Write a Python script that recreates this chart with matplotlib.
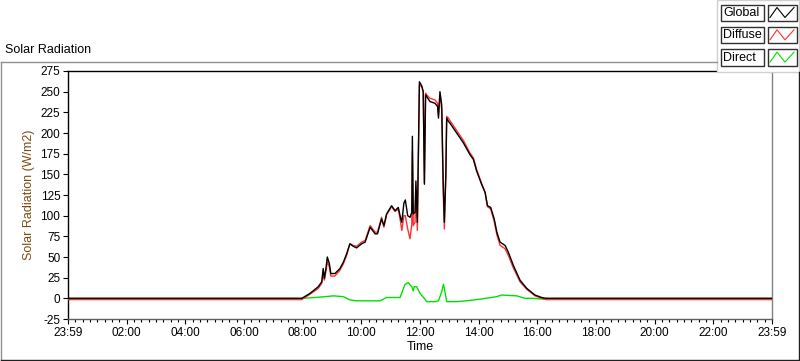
import matplotlib
matplotlib.use("Agg")
import matplotlib.pyplot as plt
from matplotlib.patches import Rectangle
import numpy as np

plt.rcParams['font.family'] = ['Liberation Sans', 'DejaVu Sans']
plt.rcParams['axes.unicode_minus'] = False

# time in hours after 23:59 of the previous day
t_gd = [0, 7.97, 8.25, 8.53, 8.65, 8.70, 8.74, 8.80, 8.84, 8.91, 8.96, 9.10, 9.27, 9.39,
        9.50, 9.61, 9.72, 9.84, 10.01, 10.13, 10.30, 10.47, 10.55, 10.69, 10.77, 10.86,
        11.03, 11.15, 11.26, 11.32, 11.38, 11.45, 11.50, 11.58, 11.66, 11.72, 11.74, 11.77,
        11.83, 11.86, 11.91, 11.98, 12.06, 12.11, 12.15, 12.19, 12.23, 12.34, 12.51, 12.60,
        12.63, 12.68, 12.74, 12.79, 12.83, 12.88, 12.91, 12.97, 13.02, 13.25, 13.48, 13.70,
        13.82, 13.93, 14.10, 14.22, 14.30, 14.41, 14.53, 14.62, 14.73, 14.90, 15.01, 15.18,
        15.41, 15.64, 15.92, 16.15, 16.30, 24]
glob = [0, 0, 6, 14, 20, 36, 24, 38, 50, 42, 30, 30, 36, 44,
        54, 66, 63, 61, 66, 68, 86, 78, 78, 96, 88, 102,
        112, 106, 110, 100, 92, 115, 119, 100, 98, 104, 196, 102,
        104, 142, 92, 262, 257, 250, 138, 246, 244, 238, 236, 232,
        218, 250, 234, 142, 92, 150, 218, 214, 212, 200, 188, 174,
        168, 154, 138, 128, 112, 110, 96, 80, 68, 64, 56, 40,
        22, 12, 4, 1, 0, 0]
diffuse = [-1.5, -1.5, 5, 12, 18, 32, 22, 34, 44, 38, 27, 27, 34, 42,
           52, 66, 64, 63, 68, 70, 88, 80, 80, 98, 86, 101,
           111, 105, 108, 96, 82, 100, 100, 84, 72, 90, 178, 88,
           92, 130, 82, 258, 256, 250, 140, 248, 246, 242, 240, 236,
           222, 246, 228, 130, 84, 146, 220, 218, 215, 203, 191, 176,
           170, 156, 139, 128, 111, 108, 93, 77, 64, 60, 52, 37,
           20, 11, 3, 0, -1.5, -1.5]

t_dir = [0, 7.97, 8.42, 8.76, 9.05, 9.39, 9.61, 9.84, 10.64, 10.86, 11.32, 11.49, 11.60,
         11.72, 11.77, 11.80, 11.89, 12.00, 12.17, 12.23, 12.51, 12.63, 12.74, 12.80, 12.85,
         12.91, 13.25, 13.59, 14.05, 14.61, 14.78, 15.30, 15.58, 15.86, 16.20, 16.30, 24]
direct = [0, 0, 1, 2, 3, 2, -2, -3, -3, 1, 1, 17, 19,
          14, 9, 14, 14, 6, -1, -4, -4, -3, 8, 17, 8,
          -4, -4, -3, -1, 2, 4, 3, 0, 0, -1, 0, 0]

x_ticks = list(range(0, 25, 2))
x_labels = ['23:59', '02:00', '04:00', '06:00', '08:00', '10:00', '12:00',
            '14:00', '16:00', '18:00', '20:00', '22:00', '23:59']
y_ticks = list(range(-25, 276, 25))

names = ['Global', 'Diffuse', 'Direct']
colors = ['#000000', '#ff3030', '#00e000']

W, H = 800, 361
fig = plt.figure(figsize=(W / 100, H / 100), dpi=100)
fig.patch.set_facecolor('white')

ax = fig.add_axes([68 / W, (H - 319) / H, 704 / W, 248 / H])
ax.plot(t_dir, direct, color=colors[2], lw=1.0, zorder=2)
ax.plot(t_gd, diffuse, color=colors[1], lw=1.0, zorder=3)
ax.plot(t_gd, glob, color=colors[0], lw=1.0, zorder=4)

ax.set_xlim(0, 24)
ax.set_ylim(-25, 275)
ax.set_xticks(x_ticks)
ax.set_xticklabels(x_labels)
ax.set_xticks(np.arange(0, 24.01, 0.25), minor=True)
ax.set_yticks(y_ticks)
ax.tick_params(axis='both', which='major', direction='out', length=3.5, width=0.8,
               labelsize=8.5, pad=2, colors='black')
ax.tick_params(axis='x', which='minor', direction='out', length=2.5, width=0.8)
ax.tick_params(axis='y', which='minor', left=False)
ax.spines['left'].set_color('black')
ax.spines['top'].set_color('black')
ax.spines['right'].set_color('#808080')
ax.spines['bottom'].set_color('#606060')
for s in ax.spines.values():
    s.set_linewidth(1.0)
ax.set_xlabel('Time', fontsize=9, labelpad=2)
ax.set_ylabel('Solar Radiation (W/m2)', fontsize=9, color='#7a4a10', labelpad=4)

# overlay in pixel coordinates for frame, title and legend
ov = fig.add_axes([0, 0, 1, 1], zorder=5)
ov.set_xlim(0, W)
ov.set_ylim(H, 0)
ov.axis('off')
ov.patch.set_alpha(0)

ov.plot([1, 717], [61.5, 61.5], color='#909090', lw=1.0)
ov.plot([1, 1], [61.5, 359.5], color='#909090', lw=1.0)
ov.plot([1, 799], [359.5, 359.5], color='#202020', lw=1.0)
ov.plot([798.5, 798.5], [72, 359.5], color='#202020', lw=1.0)
ov.text(5, 50, 'Solar Radiation', fontsize=9, ha='left', va='center')

ov.add_patch(Rectangle((717, 0), 82, 72, facecolor='white', edgecolor='#d0d0d0', lw=1.0))
for i, (name, c) in enumerate(zip(names, colors)):
    y0 = 4.5 + i * 22.3
    ov.add_patch(Rectangle((720.5, y0), 43, 16.5, facecolor='white', edgecolor='#303030', lw=1.0))
    ov.text(723, y0 + 8.5, name, fontsize=9, ha='left', va='center')
    ov.add_patch(Rectangle((767.5, y0), 29, 16.5, facecolor='white', edgecolor='#303030', lw=1.0))
    zx = [770, 777, 785, 794]
    zy = [y0 + 13, y0 + 3, y0 + 13, y0 + 3]
    ov.plot(zx, zy, color=c, lw=0.8)

fig.savefig('out.png', dpi=100)
